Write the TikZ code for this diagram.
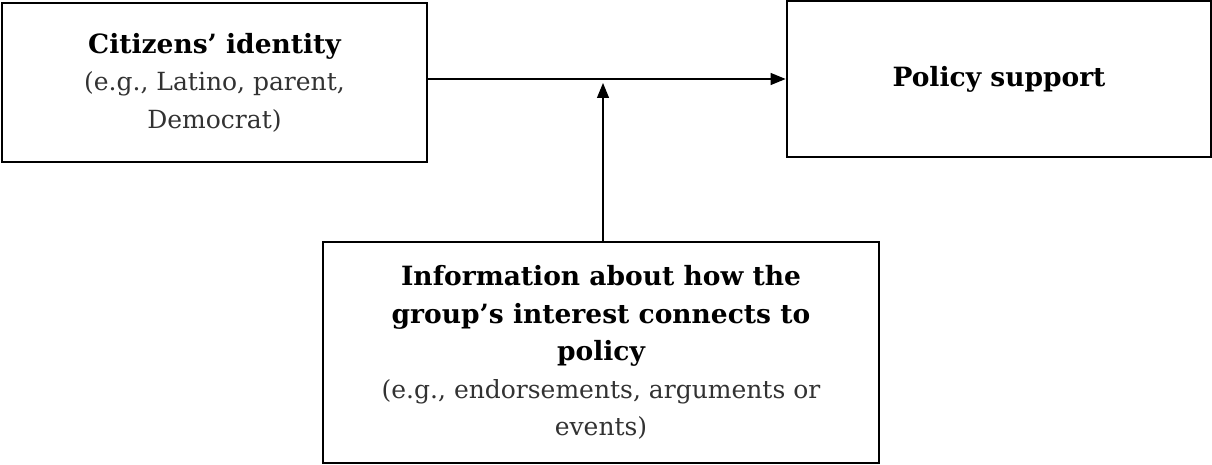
\documentclass[tikz,border=0pt]{standalone}
\usepackage{fontspec}
\setmainfont{DejaVu Serif}
\usetikzlibrary{arrows.meta}
\definecolor{txtgray}{RGB}{50,50,50}
\tikzset{
  box/.style={draw=black, line width=2.8pt, inner sep=0pt, align=center, font=\fontsize{25}{37.5}\selectfont},
  conn/.style={draw=black, line width=1.2pt, -{Triangle[length=15pt,width=12pt]}},
}
\newcommand{\hd}[1]{{\fontsize{26.5}{37.5}\selectfont\bfseries #1}}
\newcommand{\sub}[1]{{\color{txtgray}#1}}
\begin{document}
\begin{tikzpicture}[x=1pt,y=1pt]
\useasboundingbox (0,0) rectangle (1212,-465);
\node[box, minimum width=425pt, minimum height=159pt] (cit) at (214.5,-82.5)
  {\hd{Citizens’ identity}\\\sub{(e.g., Latino, parent,}\\\sub{Democrat)}};
\node[box, minimum width=424pt, minimum height=156pt] (pol) at (999,-79)
  {\hd{Policy support}};
\node[box, minimum width=556pt, minimum height=221pt] (info) at (601,-352.5)
  {\hd{Information about how the}\\\hd{group’s interest connects to}\\\hd{policy}\\\sub{(e.g., endorsements, arguments or}\\\sub{events)}};
\coordinate (mid) at (603,-79);
\draw[conn] (cit.east |- mid) -- (pol.west |- mid);
\draw[conn] (info.north -| mid) -- ([yshift=-4pt]mid);
\end{tikzpicture}
\end{document}
